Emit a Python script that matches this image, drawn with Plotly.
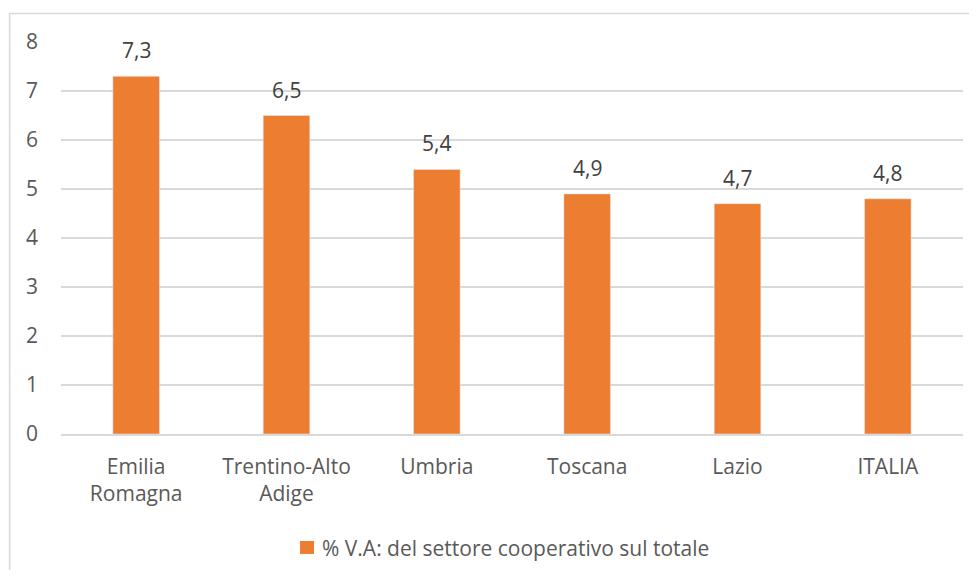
import plotly.graph_objects as go

# dati
regioni = ["Emilia<br>Romagna", "Trentino-Alto<br>Adige", "Umbria", "Toscana", "Lazio", "ITALIA"]
quota_va = [7.3, 6.5, 5.4, 4.9, 4.7, 4.8]
serie_nome = "% V.A: del settore cooperativo sul totale"

ARANCIO = "#ED7D31"
GRIGIO_TESTO = "#595959"
GRIGIO_GRIGLIA = "#D9D9D9"
FONT = "Open Sans"
FS = 21

fig = go.Figure()

fig.add_trace(go.Bar(
    x=regioni, y=quota_va,
    name=serie_nome,
    marker_color=ARANCIO,
    width=0.31,
    showlegend=False,
))

# etichette dei valori sopra le barre
for reg, val in zip(regioni, quota_va):
    fig.add_annotation(
        x=reg, y=val, text=f"{val:.1f}".replace(".", ","),
        showarrow=False, yanchor="middle", yshift=26,
        font=dict(size=FS, color="#404040", family=FONT),
    )

# cornice esterna del grafico
fig.add_shape(
    type="rect", xref="paper", yref="paper",
    x0=-0.057, x1=1.03, y0=-0.5, y1=1.073,
    line=dict(color=GRIGIO_GRIGLIA, width=1.5),
    layer="below",
)

# legenda in basso (quadratino + testo)
fig.add_shape(
    type="rect", xref="paper", yref="paper",
    x0=0.265, x1=0.2805, y0=-0.306, y1=-0.273,
    fillcolor=ARANCIO, line_width=0,
)
fig.add_annotation(
    xref="paper", yref="paper", x=0.2871, y=-0.291,
    xanchor="left", yanchor="middle", showarrow=False,
    text=serie_nome, font=dict(size=FS, color=GRIGIO_TESTO, family=FONT),
)

fig.update_layout(
    width=961, height=562,
    margin=dict(l=53, r=6, t=34, b=136),
    paper_bgcolor="white",
    plot_bgcolor="white",
    separators=",.",
    font=dict(family=FONT, size=FS, color=GRIGIO_TESTO),
    showlegend=False,
)

fig.update_yaxes(
    range=[0, 8], dtick=1,
    showgrid=True, gridcolor=GRIGIO_GRIGLIA, gridwidth=1.5,
    zeroline=False, showline=False,
    ticks="", ticklabelstandoff=22,
    tickfont=dict(size=FS, color=GRIGIO_TESTO),
)
fig.update_xaxes(
    showline=True, linecolor=GRIGIO_GRIGLIA, linewidth=1.5,
    ticks="", ticklabelstandoff=13,
    tickfont=dict(size=FS, color=GRIGIO_TESTO),
)

fig.write_html("out.html")
